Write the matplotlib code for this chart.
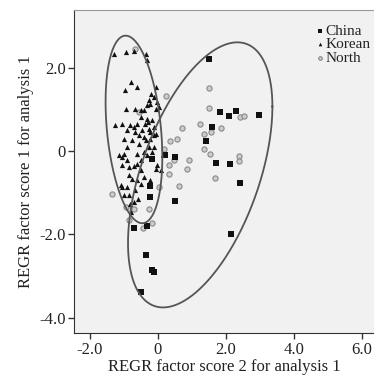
import numpy as np
import matplotlib
matplotlib.use("Agg")
import matplotlib.pyplot as plt

# ---- data (REGR factor score 2 = x, REGR factor score 1 = y) ----
china_x = [1.51, 1.82, 2.10, 2.29, 2.99, 1.59, 1.41, 1.72, 2.13, 2.41, 0.49, 0.49,
           2.15, 0.20, -0.24, -0.22, -0.69, -0.32, -0.36, -0.17, -0.12, -0.51, -0.16]
china_y = [2.22, 0.94, 0.85, 0.97, 0.86, 0.58, 0.24, -0.28, -0.32, -0.76, -0.15, -1.19,
           -1.98, -0.10, -0.83, -1.10, -1.84, -1.80, -2.50, -2.86, -2.91, -3.38, -0.18]

korean_x = [-1.28, -0.94, -0.71, -0.36, -0.32, -0.79, -0.61, -0.96, -0.07, -0.20,
            -0.12, -0.27, -0.02, 0.03, -0.94, -0.68, -0.41, -0.32, -0.22, -0.07,
            -0.51, -0.33, -0.30, -0.17, -0.39, -0.27, -0.12, -0.46, -0.56, -0.41,
            -0.66, -0.81, -1.25, -1.05, -0.71, -0.91, -1.00, -0.76, -0.56, -0.36,
            -0.22, -0.12, -0.27, -0.41, -0.61, -0.91, -1.00, -1.15, -1.05, -0.91,
            -1.05, -0.86, -0.71, -0.61, -0.51, -0.32, -0.17, -0.02, -0.07, -0.86,
            -0.76, -0.61, -0.51, -0.91, -1.05, -1.00, -0.86, -0.66, -0.58, -0.81,
            -0.78, -0.71, -0.51, -0.41, -0.22, -0.12, -0.07, -0.22, -0.51, -0.61,
            -1.08, 0.08]
korean_y = [2.34, 2.38, 2.41, 2.32, 2.18, 1.66, 1.54, 1.46, 1.54, 1.38,
            1.30, 1.22, 1.18, 1.06, 1.02, 1.02, 0.98, 1.10, 1.14, 1.02,
            0.82, 0.78, 0.70, 0.74, 0.66, 0.54, 0.58, 0.50, 0.38, 0.34,
            0.46, 0.62, 0.62, 0.66, 0.58, 0.50, 0.30, 0.26, 0.18, 0.26,
            0.30, 0.38, 0.10, -0.02, -0.06, 0.10, -0.06, -0.10, -0.14, -0.22,
            -0.34, -0.38, -0.36, -0.30, -0.22, -0.10, -0.02, -0.34, -0.42, -0.58,
            -0.66, -0.70, -0.78, -0.86, -0.86, -1.06, -1.06, -0.94, -1.14, -1.26,
            -1.46, -1.22, -0.46, -0.62, -0.70, 0.10, 0.42, 0.46, 0.98, 0.66,
            -0.82, -0.46]

north_x = [-0.68, 0.23, -0.56, 1.51, 1.50, 1.24, 0.70, 1.36, 1.56, 1.85, 2.43, 2.52,
           0.35, 0.56, 1.36, 1.52, 0.18, 0.32, 0.47, 0.93, 0.85, 0.34, 1.67, 2.40,
           2.40, 0.61, 0.04, -1.34, -0.95, -0.70, -0.26, -0.84, -0.16, -0.44]
north_y = [2.44, 1.32, 0.94, 1.52, 1.04, 0.65, 0.56, 0.40, 0.45, 0.56, 0.82, 0.84,
           0.24, 0.28, 0.05, -0.07, 0.06, -0.33, -0.22, -0.22, -0.42, -0.54, -0.64, -0.12,
           -0.24, -0.84, -0.87, -1.04, -1.34, -1.38, -1.39, -1.66, -1.72, -1.84]

# ellipses: centre x, centre y, half-width, half-height, phase
ell_cx = [-0.705, 1.245]
ell_cy = [0.52, -0.57]
ell_rx = [0.835, 2.125]
ell_ry = [2.25, 3.18]
ell_phase = [1.868, 1.030]

x_ticks = [-2.0, 0.0, 2.0, 4.0, 6.0]
x_ticklabels = ["-2.0", "0", "2.0", "4.0", "6.0"]
y_ticks = [-4.0, -2.0, 0.0, 2.0]
y_ticklabels = ["-4.0", "-2.0", "0", "2.0"]

plt.rcParams['font.family'] = ['Liberation Serif', 'DejaVu Serif']

fig = plt.figure(figsize=(3.74, 3.78), dpi=100)
ax = fig.add_axes([0.1987, 0.1183, 0.8013, 0.8552])
ax.set_facecolor('#f1f1f1')

ax.scatter(north_x, north_y, s=14, marker='o', facecolor='#cccccc',
           edgecolor='#8a8a8a', linewidths=0.8, label='North', zorder=3)
ax.scatter(korean_x, korean_y, s=14, marker='^', color='#111111',
           linewidths=0, label='Korean', zorder=4)
ax.scatter(china_x, china_y, s=15, marker='s', color='#111111',
           linewidths=0, label='China', zorder=5)

t = np.linspace(0, 2 * np.pi, 400)
for cx, cy, rx, ry, ph in zip(ell_cx, ell_cy, ell_rx, ell_ry, ell_phase):
    ax.plot(cx + rx * np.cos(t), cy + ry * np.cos(t - ph), color='#555555',
            lw=1.3, zorder=6)

ax.set_xlim(-2.46, 6.36)
ax.set_ylim(-4.37, 3.385)
ax.set_xticks(x_ticks)
ax.set_xticklabels(x_ticklabels)
ax.set_yticks(y_ticks)
ax.set_yticklabels(y_ticklabels)
ax.tick_params(direction='out', length=4, width=1, color='#333333',
               labelsize=12, labelcolor='#222222', pad=2)

ax.spines['right'].set_visible(False)
ax.spines['top'].set_color('#999999')
ax.spines['left'].set_color('#333333')
ax.spines['bottom'].set_color('#333333')

ax.set_xlabel("REGR factor score 2 for analysis 1", fontsize=12, color='#222222', labelpad=1)
ax.set_ylabel("REGR factor score 1 for analysis 1", fontsize=12, color='#222222', labelpad=4)

h, l = ax.get_legend_handles_labels()
order = [2, 1, 0]
leg = ax.legend([h[i] for i in order], [l[i] for i in order], loc='upper right',
                bbox_to_anchor=(1.02, 0.985), frameon=False, fontsize=11,
                handletextpad=0.0, handlelength=0.8, labelspacing=0.0,
                markerscale=0.7, borderaxespad=0.2)
for txt in leg.get_texts():
    txt.set_color('#222222')

fig.savefig("out.png", dpi=100)
